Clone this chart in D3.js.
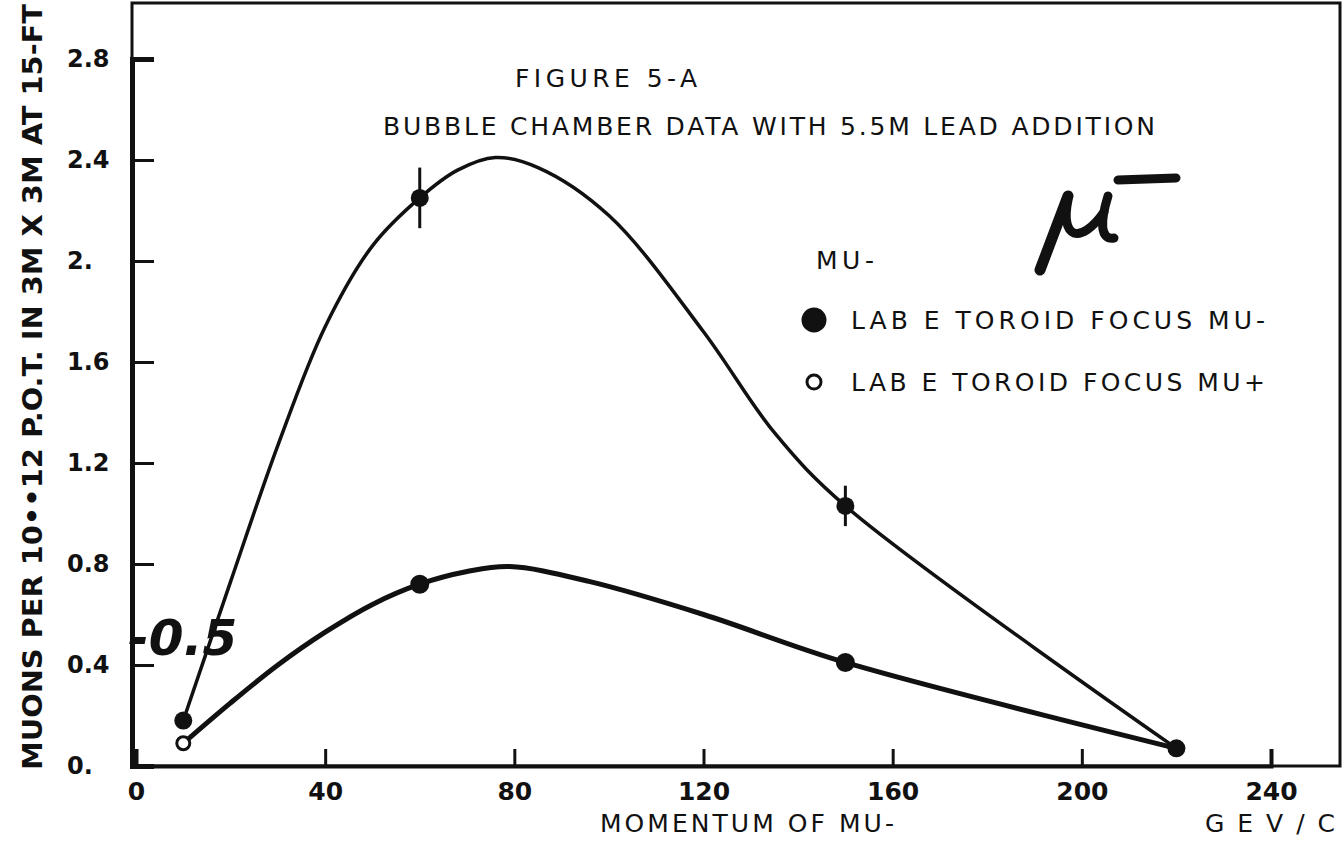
<!DOCTYPE html>
<html>

<head>
  <title>Figure 5-A</title>

  <style>
    body,
    html {
      margin: 0;
      padding: 0;
      background: #fff;
    }

    text {
      font-family: "DejaVu Sans", "Liberation Sans", sans-serif;
      fill: #111;
    }
  </style>
</head>

<body>

  <svg id="svg" width="1344" height="842"></svg>

  <script src="https://d3js.org/d3.v7.min.js"></script>
  <script>
    // measured points (GeV/c, muons per 10**12 p.o.t.)
    const momentum = [10, 60, 150, 220]
    const muMinus = [0.18, 2.25, 1.03, 0.07]
    const muMinusErr = [0, 0.12, 0.08, 0]
    const muPlus = [0.09, 0.72, 0.41]
    const muPlusErr = [0, 0.03, 0]
    const muPlusFilled = [false, true, true]

    // hand drawn smooth curves
    const upperCurveX = [10, 20, 30, 40, 50, 60, 68, 76, 85, 100, 120, 135, 150, 220]
    const upperCurveY = [0.18, 0.73, 1.27, 1.74, 2.06, 2.25, 2.36, 2.41, 2.37, 2.18, 1.72, 1.32, 1.03, 0.07]
    const lowerCurveX = [10, 20, 30, 40, 50, 60, 70, 79, 96, 120, 150, 220]
    const lowerCurveY = [0.09, 0.25, 0.40, 0.53, 0.64, 0.72, 0.77, 0.79, 0.73, 0.60, 0.41, 0.07]

    const xTicks = [0, 40, 80, 120, 160, 200, 240]
    const yTicks = [0, 0.4, 0.8, 1.2, 1.6, 2.0, 2.4, 2.8]
    const yTickLabels = ["0.", "0.4", "0.8", "1.2", "1.6", "2.", "2.4", "2.8"]

    const legendLabels = ["LAB E TOROID FOCUS MU-", "LAB E TOROID FOCUS MU+"]

    const width = 1344
    const height = 842

    const xScale = d3.scaleLinear()
      .domain([0, 240])
      .range([136, 1271])

    const yScale = d3.scaleLinear()
      .domain([0, 2.8])
      .range([766, 59])

    const svg = d3.select("#svg")

    svg.append("rect")
      .attr("width", width)
      .attr("height", height)
      .attr("fill", "#fff")

    // frame
    svg.append("rect")
      .attr("x", 132)
      .attr("y", 3)
      .attr("width", 1340 - 132)
      .attr("height", 766 - 3)
      .attr("fill", "none")
      .attr("stroke", "#111")
      .attr("stroke-width", 3)

    // x axis, ticks point inward
    const bottomAxis = d3.axisBottom(xScale)
      .tickValues(xTicks)
      .tickSize(-17)
      .tickPadding(16)
      .tickFormat(d3.format("d"))

    const gx = svg.append("g")
      .attr("transform", "translate(0, 766)")
      .call(bottomAxis)
    gx.select(".domain").attr("stroke-width", 4).attr("stroke", "#111")
    gx.selectAll(".tick line").attr("stroke-width", 3).attr("stroke", "#111")
    gx.selectAll(".tick text")
      .attr("font-size", 25)
      .attr("font-weight", "bold")
      .attr("fill", "#111")

    // y axis, ticks point inward, labels left aligned
    const leftAxis = d3.axisLeft(yScale)
      .tickValues(yTicks)
      .tickSize(-22)
      .tickFormat((d, i) => yTickLabels[i])

    const gy = svg.append("g")
      .attr("transform", "translate(132, 0)")
      .call(leftAxis)
    gy.select(".domain").attr("stroke-width", 5).attr("stroke", "#111")
    gy.selectAll(".tick line").attr("stroke-width", 3).attr("stroke", "#111")
    gy.selectAll(".tick text")
      .attr("x", -65)
      .attr("text-anchor", "start")
      .attr("font-size", 24)
      .attr("font-weight", "bold")
      .attr("fill", "#111")

    // curves
    const lineGen = d3.line()
      .x(d => xScale(d[0]))
      .y(d => yScale(d[1]))
      .curve(d3.curveCatmullRom.alpha(0.5))

    svg.append("path")
      .attr("d", lineGen(upperCurveX.map((x, i) => [x, upperCurveY[i]])))
      .attr("fill", "none")
      .attr("stroke", "#111")
      .attr("stroke-width", 3.5)

    svg.append("path")
      .attr("d", lineGen(lowerCurveX.map((x, i) => [x, lowerCurveY[i]])))
      .attr("fill", "none")
      .attr("stroke", "#111")
      .attr("stroke-width", 5)

    // error bars
    const upperData = momentum.map((m, i) => ({ m, v: muMinus[i], e: muMinusErr[i] }))
    const lowerData = muPlus.map((v, i) => ({ m: momentum[i], v, e: muPlusErr[i], filled: muPlusFilled[i] }))

    svg.append("g")
      .selectAll("line")
      .data(upperData.concat(lowerData).filter(d => d.e > 0))
      .enter()
      .append("line")
      .attr("x1", d => xScale(d.m))
      .attr("x2", d => xScale(d.m))
      .attr("y1", d => yScale(d.v - d.e))
      .attr("y2", d => yScale(d.v + d.e))
      .attr("stroke", "#111")
      .attr("stroke-width", 3)

    svg.append("g")
      .selectAll("circle")
      .data(upperData)
      .enter()
      .append("circle")
      .attr("cx", d => xScale(d.m))
      .attr("cy", d => yScale(d.v))
      .attr("r", 9)
      .attr("fill", "#111")

    svg.append("g")
      .selectAll("circle")
      .data(lowerData)
      .enter()
      .append("circle")
      .attr("cx", d => xScale(d.m))
      .attr("cy", d => yScale(d.v))
      .attr("r", d => d.filled ? 8 : 6.5)
      .attr("fill", d => d.filled ? "#111" : "#fff")
      .attr("stroke", "#111")
      .attr("stroke-width", 3)

    // titles
    svg.append("text")
      .attr("x", 515)
      .attr("y", 87)
      .attr("font-size", 25)
      .attr("textLength", 182)
      .attr("lengthAdjust", "spacing")
      .text("FIGURE 5-A")

    svg.append("text")
      .attr("x", 383)
      .attr("y", 135)
      .attr("font-size", 25)
      .attr("textLength", 772)
      .attr("lengthAdjust", "spacing")
      .text("BUBBLE CHAMBER DATA WITH 5.5M LEAD ADDITION")

    // legend
    svg.append("text")
      .attr("x", 816)
      .attr("y", 269)
      .attr("font-size", 25)
      .attr("textLength", 58)
      .attr("lengthAdjust", "spacing")
      .text("MU-")

    const legend = svg.append("g")
      .selectAll("g")
      .data(legendLabels)
      .enter()
      .append("g")
      .attr("transform", (d, i) => `translate(814, ${320 + i * 62})`)

    legend.append("circle")
      .attr("r", (d, i) => i === 0 ? 11 : 7)
      .attr("fill", (d, i) => i === 0 ? "#111" : "#fff")
      .attr("stroke", "#111")
      .attr("stroke-width", 3)

    legend.append("text")
      .attr("x", 37)
      .attr("y", 9)
      .attr("font-size", 25)
      .attr("textLength", 414)
      .attr("lengthAdjust", "spacing")
      .text(d => d)

    // axis titles
    svg.append("text")
      .attr("x", 600)
      .attr("y", 832)
      .attr("font-size", 25)
      .attr("textLength", 294)
      .attr("lengthAdjust", "spacing")
      .text("MOMENTUM OF MU-")

    svg.append("text")
      .attr("x", 1205)
      .attr("y", 832)
      .attr("font-size", 25)
      .attr("textLength", 130)
      .attr("lengthAdjust", "spacing")
      .text("GEV/C")

    svg.append("text")
      .attr("transform", "translate(42, 770) rotate(-90)")
      .attr("font-size", 27)
      .attr("font-weight", "bold")
      .attr("textLength", 766)
      .attr("lengthAdjust", "spacingAndGlyphs")
      .text("MUONS PER 10••12 P.O.T. IN 3M X 3M AT 15-FT")

    // handwritten notes
    svg.append("text")
      .attr("x", 128)
      .attr("y", 655)
      .attr("font-size", 50)
      .attr("font-weight", "bold")
      .attr("font-style", "italic")
      .text("-0.5")

    // hand drawn mu-minus, pen strokes
    const pen = svg.append("g")
      .attr("fill", "none")
      .attr("stroke", "#111")
      .attr("stroke-linecap", "round")
      .attr("stroke-linejoin", "round")

    pen.append("path")
      .attr("d", "M1040,270 L1068,196")
      .attr("stroke-width", 11)
    pen.append("path")
      .attr("d", "M1068,200 C1060,238 1080,246 1104,212")
      .attr("stroke-width", 9)
    pen.append("path")
      .attr("d", "M1108,196 C1100,222 1100,240 1114,238")
      .attr("stroke-width", 9)
    pen.append("path")
      .attr("d", "M1118,180 L1176,178")
      .attr("stroke-width", 9)
  </script>
</body>

</html>
